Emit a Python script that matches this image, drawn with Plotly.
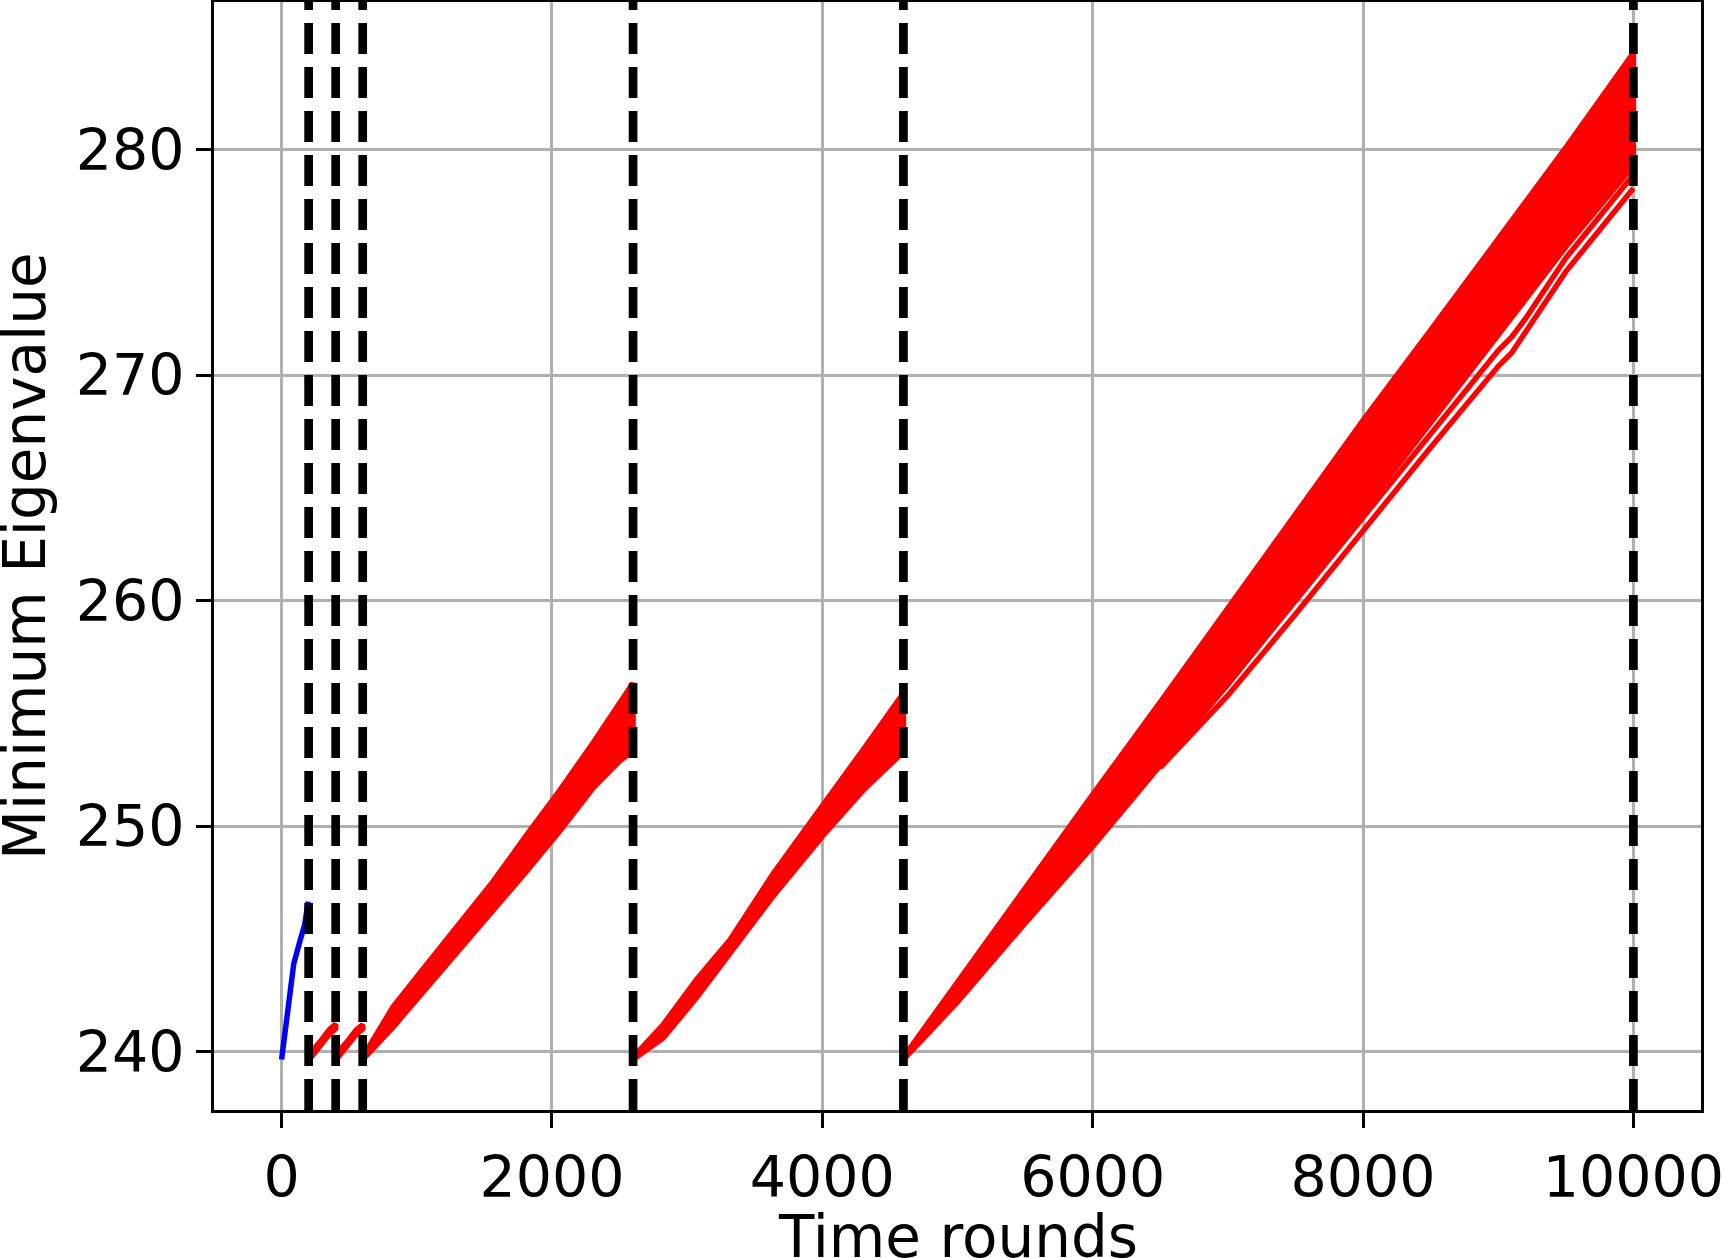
import plotly.graph_objects as go

# ---------------- data ----------------
blue_t = [0, 40, 90, 140, 170, 197]
blue_v = [239.65, 241.6, 243.9, 245.0, 245.6, 246.65]

seg1_t = [200, 250, 300, 350, 400]
seg1_hi = [239.72, 240.2, 240.55, 240.95, 241.22]
seg1_lo = [239.62, 240.0, 240.35, 240.75, 241.02]

seg2_t = [400, 450, 500, 550, 600]
seg2_hi = [239.72, 240.2, 240.55, 240.95, 241.2]
seg2_lo = [239.62, 240.0, 240.35, 240.75, 241.0]

seg3_t = [600, 826, 1072, 1319, 1565, 1812, 2059, 2305, 2502, 2600]
seg3_hi = [239.75, 242.0, 243.85, 245.7, 247.55, 249.6, 251.6, 253.7, 255.45, 256.35]
seg3_lo = [239.65, 241.1, 242.85, 244.6, 246.25, 248.0, 249.8, 251.7, 252.9, 253.35]

seg4_t = [2600, 2823, 3070, 3316, 3637, 4007, 4303, 4600]
seg4_hi = [239.75, 241.2, 243.2, 244.95, 247.9, 250.9, 253.4, 255.9]
seg4_lo = [239.65, 240.6, 242.4, 244.3, 246.9, 249.6, 251.6, 253.3]

seg5_t = [4600, 5000, 5500, 6000, 6500, 7000, 7500, 8000, 8500, 9000, 9500, 10000]
seg5_hi = [239.75, 243.1, 247.2, 251.4, 255.5, 259.7, 263.9, 268.0, 272.0, 276.0, 280.1, 284.3]
seg5_lo = [239.65, 242.2, 245.7, 249.1, 252.7, 256.3, 260.1, 264.0, 267.9, 271.8, 275.7, 279.3]

low1_t = [6500, 7000, 7500, 8000, 8500, 9000, 9100, 9200, 9500, 10000]
low1_v = [252.6, 255.8, 259.4, 263.1, 266.8, 270.4, 271.0, 271.9, 274.6, 278.3]
low2_v = [252.9, 256.3, 260.0, 263.7, 267.4, 271.1, 271.7, 272.5, 275.2, 278.9]

vlines = [200, 400, 600, 2600, 4600, 10000]

x_ticks = [0, 2000, 4000, 6000, 8000, 10000]
y_ticks = [240, 250, 260, 270, 280]

x_title = "Time rounds"
y_title = "Minimum Eigenvalue"

RED = "#ff0000"
LW = 5.5

fig = go.Figure()

def band(t, hi, lo):
    fig.add_trace(go.Scatter(
        x=list(t) + list(t)[::-1], y=list(hi) + list(lo)[::-1],
        mode="lines", fill="toself", fillcolor=RED,
        line=dict(color=RED, width=LW), hoverinfo="skip", showlegend=False))

for t, hi, lo in [(seg1_t, seg1_hi, seg1_lo), (seg2_t, seg2_hi, seg2_lo),
                  (seg3_t, seg3_hi, seg3_lo), (seg4_t, seg4_hi, seg4_lo),
                  (seg5_t, seg5_hi, seg5_lo)]:
    band(t, hi, lo)

for v in (low1_v, low2_v):
    fig.add_trace(go.Scatter(x=low1_t, y=v, mode="lines",
                             line=dict(color=RED, width=LW), showlegend=False))

fig.add_trace(go.Scatter(x=blue_t, y=blue_v, mode="lines",
                         line=dict(color="#0000ff", width=LW), showlegend=False))

for xv in vlines:
    fig.add_shape(type="line", xref="x", yref="paper", x0=xv, x1=xv, y0=0, y1=1,
                  line=dict(color="black", width=8.7, dash="31px,13px"), layer="above")

tick_font = dict(family="DejaVu Sans", size=57, color="black")
title_font = dict(family="DejaVu Sans", size=58, color="black")
axis_common = dict(showline=True, mirror=True, linecolor="black", linewidth=3.3,
                   showgrid=True, gridcolor="#b0b0b0", gridwidth=3.3, zeroline=False,
                   ticks="outside", ticklen=15, tickwidth=3.3, tickcolor="black",
                   tickfont=tick_font, ticklabeloverflow="allow", automargin=False)

fig.add_annotation(text=x_title, xref="paper", yref="paper", x=0.5, y=0,
                   xanchor="center", yanchor="middle", yshift=-127,
                   showarrow=False, font=title_font)
fig.add_annotation(text=y_title, xref="paper", yref="paper", x=0, y=0.5,
                   xanchor="center", yanchor="middle", xshift=-189, textangle=-90,
                   showarrow=False, font=title_font)

fig.update_layout(
    width=1724, height=1258,
    margin=dict(l=214, r=23, t=2, b=148),
    paper_bgcolor="white", plot_bgcolor="white",
    showlegend=False,
    xaxis=dict(range=[-500, 10500], tickvals=x_ticks, ticktext=[str(v) for v in x_ticks],
               **axis_common),
    yaxis=dict(range=[237.41, 286.56], tickvals=y_ticks, ticktext=[str(v) for v in y_ticks],
               **axis_common),
)

fig.write_html("out.html")
